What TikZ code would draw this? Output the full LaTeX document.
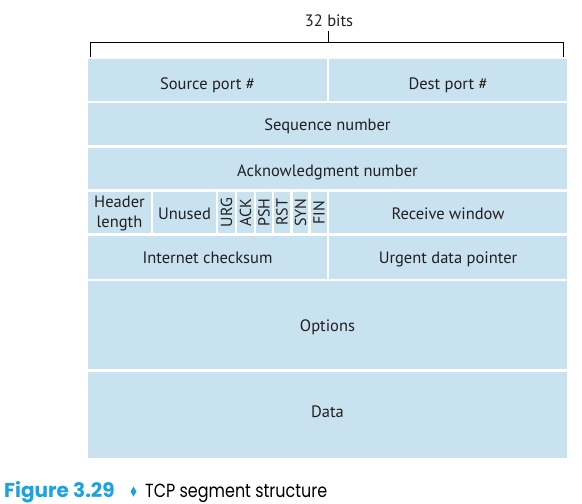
\documentclass[tikz,border=0pt]{standalone}
\usepackage{fontspec}
\setmainfont{PT Sans}
\newfontfamily\capfont{Poppins}
\newfontfamily\capfontnarrow[FakeStretch=0.84]{Poppins}
\definecolor{cellfill}{HTML}{C8E2EF}
\definecolor{captioncyan}{HTML}{1AA3E0}
\definecolor{textdark}{HTML}{231F20}
\tikzset{
  cellbox/.style={fill=cellfill, inner sep=0pt, outer sep=0pt},
  celltext/.style={text=textdark, inner sep=0pt, anchor=base,
    font=\fontsize{16.5}{19.5}\selectfont, align=center},
  flagtext/.style={text=textdark, font=\fontsize{16}{18}\selectfont, rotate=90, inner sep=0pt},
  bracketline/.style={draw=black, line width=1.3pt}
}
% name, x1, y1, x2, y2, text, baseline offset
\newcommand\mkcell[7]{%
  \node[cellbox, minimum width={(#4-#2)*1pt}, minimum height={(#5-#3)*1pt}]
    (#1) at ({(#2+#4)/2},{(#3+#5)/2}) {};
  \node[celltext] (#1-t) at ({(#2+#4)/2},{(#3+#5)/2+#7}) {#6};}
\begin{document}
\begin{tikzpicture}[x=1pt,y=-1pt]
\useasboundingbox (0,0) rectangle (582,504);
% bracket
\coordinate (bl) at (90.5,57);
\coordinate (blt) at (90.5,42.5);
\coordinate (brt) at (563.5,42.5);
\coordinate (br) at (563.5,57);
\coordinate (bm) at (328.5,42.5);
\coordinate (bmt) at (328.5,31);
\draw[bracketline] (bl) -- (blt) -- (brt) -- (br);
\draw[bracketline] (bm) -- (bmt);
\node[celltext] (bits) at (329,26) {32 bits};
% rows
\mkcell{src}{88}{59}{327}{101}{Source port \#}{9}
\mkcell{dst}{329}{59}{567}{101}{Dest port \#}{9}
\mkcell{seq}{88}{103}{567}{145}{Sequence number}{6.5}
\mkcell{ack}{88}{148}{567}{189}{Acknowledgment number}{7.5}
\node[cellbox, minimum width=63pt, minimum height=41pt] (hlen) at (119.5,212.5) {};
\node[text=textdark, inner sep=0pt, align=center, font=\fontsize{16.5}{19.5}\selectfont] (hlen-t) at (119.5,213.5) {Header\\length};
\mkcell{unused}{153}{192}{216}{233}{Unused}{6.5}
\mkcell{urg}{218}{192}{235}{233}{}{0}
\mkcell{ackf}{237}{192}{254}{233}{}{0}
\mkcell{psh}{256}{192}{272}{233}{}{0}
\mkcell{rst}{274}{192}{290}{233}{}{0}
\mkcell{syn}{293}{192}{308}{233}{}{0}
\mkcell{fin}{311}{192}{327}{233}{}{0}
\node[flagtext] (urg-t) at (urg) {URG};
\node[flagtext] (ackf-t) at (ackf) {ACK};
\node[flagtext] (psh-t) at (psh) {PSH};
\node[flagtext] (rst-t) at (rst) {RST};
\node[flagtext] (syn-t) at (syn) {SYN};
\node[flagtext] (fin-t) at (fin) {FIN};
\mkcell{rwin}{329}{192}{567}{233}{Receive window}{6.5}
\mkcell{csum}{88}{236}{327}{279}{Internet checksum}{6}
\mkcell{urgp}{329}{236}{567}{279}{Urgent data pointer}{6}
\mkcell{opt}{88}{281}{567}{369}{Options}{6}
\mkcell{data}{88}{372}{567}{458}{Data}{2}
% caption
\node[anchor=base west, inner sep=0pt, text=captioncyan, font=\capfont\bfseries\fontsize{20}{22}\selectfont] (fig) at (4,497) {Figure 3.29};
\fill[captioncyan] (133.5,486.5) -- (136.5,491.5) -- (133.5,496.5) -- (130.5,491.5) -- cycle;
\node[anchor=base west, inner sep=0pt, text=black, font=\capfontnarrow\fontsize{19}{21}\selectfont] (capt) at (145,497) {TCP segment structure};
\end{tikzpicture}
\end{document}
